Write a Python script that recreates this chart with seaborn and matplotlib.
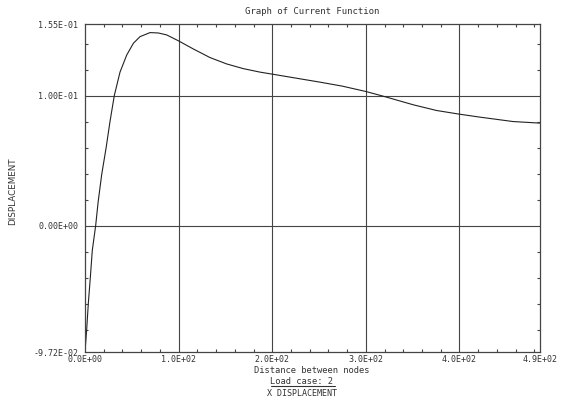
import pandas as pd
import matplotlib
matplotlib.use("Agg")
import matplotlib.pyplot as plt
from matplotlib.ticker import FixedLocator, MultipleLocator
import seaborn as sns

# Adatok (leolvasva az abrarol)
distance = [0, 1.8, 3.6, 5.8, 7.8, 11.4, 14, 17.8, 22.5, 26.7, 31.3, 37.4,
            44.6, 51.7, 58.8, 69.5, 78.3, 87.3, 100, 115.7, 133.5, 151.3,
            169, 186.9, 200.4, 226, 250.9, 275, 300, 318.5, 350.5, 375.5,
            399.6, 421.7, 457.2, 485.7]
displacement = [-0.0972, -0.0798, -0.0593, -0.0389, -0.019, 0.0, 0.018,
                0.0391, 0.0596, 0.080, 0.100, 0.118, 0.1312, 0.1402, 0.1453,
                0.1484, 0.1481, 0.1466, 0.142, 0.1358, 0.1292, 0.1243, 0.1207,
                0.118, 0.1164, 0.1133, 0.1103, 0.1072, 0.1031, 0.0995, 0.0929,
                0.0885, 0.0857, 0.0834, 0.080, 0.0788]

x_ticks = [0, 100, 200, 300, 400, 486]
x_labels = ["0.0E+00", "1.0E+02", "2.0E+02", "3.0E+02", "4.0E+02", "4.9E+02"]
y_ticks = [-0.0972, 0.0, 0.1, 0.155]
y_labels = ["-9.72E-02", "0.00E+00", "1.00E-01", "1.55E-01"]

df = pd.DataFrame({"Distance": distance, "Displacement": displacement})

sns.set_style("white")
plt.rcParams["font.family"] = ["DejaVu Sans Mono", "DejaVu Sans"]

fig = plt.figure(figsize=(5.71, 4.03), dpi=100)
ax = fig.add_axes([85 / 571, 1 - 352 / 403, 455 / 571, 328 / 403])

sns.lineplot(data=df, x="Distance", y="Displacement", color="#222222",
             linewidth=0.8, ax=ax)

ax.set_xlim(0, 486)
ax.set_ylim(-0.0972, 0.155)

# racsvonalak
for gx in [100, 200, 300, 400]:
    ax.axvline(gx, color="#444444", linewidth=0.8, zorder=0)
for gy in [0.0, 0.1]:
    ax.axhline(gy, color="#444444", linewidth=0.8, zorder=0)

ax.xaxis.set_major_locator(FixedLocator(x_ticks))
ax.set_xticklabels(x_labels)
ax.xaxis.set_minor_locator(MultipleLocator(20))
ax.yaxis.set_major_locator(FixedLocator(y_ticks))
ax.set_yticklabels(y_labels)
ax.yaxis.set_minor_locator(MultipleLocator(0.02))

ax.tick_params(which="both", direction="in", top=True, right=True,
               bottom=True, left=True, color="#444444", width=0.8)
ax.tick_params(which="major", length=0, labelsize=6, labelcolor="#333333")
ax.tick_params(axis="x", which="major", pad=2.5)
ax.tick_params(axis="y", which="major", pad=5)
ax.tick_params(which="minor", length=2.5)

for s in ax.spines.values():
    s.set_color("#444444")
    s.set_linewidth(0.9)

ax.set_xlabel("")
ax.set_ylabel("DISPLACEMENT", fontsize=6.3, family="DejaVu Sans",
              color="#333333")
ax.yaxis.set_label_coords((17 - 85) / 455, 0.49)
ax.set_title("Graph of Current Function", fontsize=6.5, color="#333333", pad=7)

fig.text(311.7 / 571, 1 - 370.5 / 403, "Distance between nodes", ha="center",
         va="center", fontsize=6.3, color="#333333")
fig.text(301 / 571, 1 - 381 / 403, "Load case: 2", ha="center", va="center",
         fontsize=6.3, color="#333333")
fig.add_artist(plt.Line2D([270.7 / 571, 335 / 571], [1 - 385.5 / 403, 1 - 385.5 / 403],
                          color="#333333", linewidth=0.8))
fig.text(302 / 571, 1 - 393 / 403, "X DISPLACEMENT", ha="center",
         va="center", fontsize=6, color="#333333")

fig.savefig("out.png", dpi=100, facecolor="white")
